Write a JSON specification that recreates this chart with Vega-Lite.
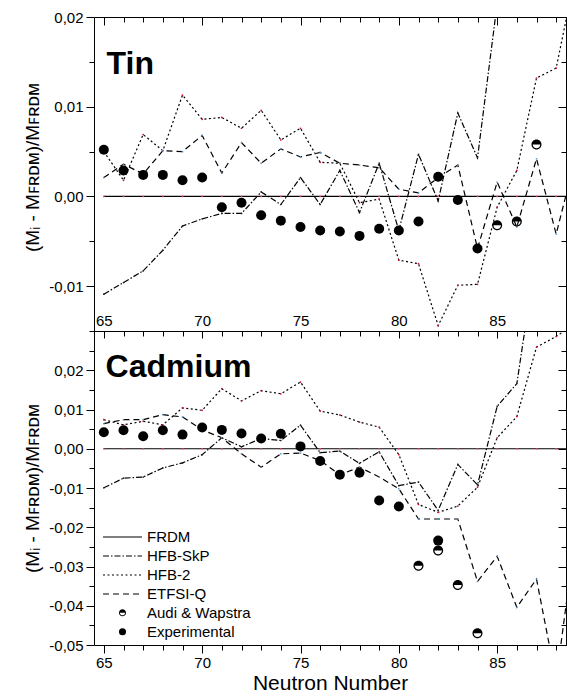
{
  "$schema": "https://vega.github.io/schema/vega-lite/v6.json",
  "padding": {"left": 23, "top": 10, "right": 0, "bottom": 0},
  "spacing": 0,
  "bounds": "flush",
  "config": {
    "font": "Liberation Sans",
    "view": {"stroke": null},
    "axis": {"domainColor": "black", "tickColor": "black", "labelColor": "black", "titleColor": "black", "grid": false, "labelFlush": false, "labelOverlap": false, "labelFontSize": 15, "labelFontWeight": "normal", "titleFontWeight": "normal", "domainWidth": 1, "tickWidth": 1, "labelFont": "Liberation Sans", "titleFont": "Liberation Sans"},
    "legend": {"labelColor": "black", "labelFontSize": 15, "labelFont": "Liberation Sans"}
  },
  "datasets": {
    "models": [
      {"element":"Sn","model":"FRDM","n":65,"v":0},{"element":"Sn","model":"FRDM","n":66,"v":0},{"element":"Sn","model":"FRDM","n":67,"v":0},{"element":"Sn","model":"FRDM","n":68,"v":0},{"element":"Sn","model":"FRDM","n":69,"v":0},{"element":"Sn","model":"FRDM","n":70,"v":0},{"element":"Sn","model":"FRDM","n":71,"v":0},{"element":"Sn","model":"FRDM","n":72,"v":0},{"element":"Sn","model":"FRDM","n":73,"v":0},{"element":"Sn","model":"FRDM","n":74,"v":0},{"element":"Sn","model":"FRDM","n":75,"v":0},{"element":"Sn","model":"FRDM","n":76,"v":0},{"element":"Sn","model":"FRDM","n":77,"v":0},{"element":"Sn","model":"FRDM","n":78,"v":0},{"element":"Sn","model":"FRDM","n":79,"v":0},{"element":"Sn","model":"FRDM","n":80,"v":0},{"element":"Sn","model":"FRDM","n":81,"v":0},{"element":"Sn","model":"FRDM","n":82,"v":0},{"element":"Sn","model":"FRDM","n":83,"v":0},{"element":"Sn","model":"FRDM","n":84,"v":0},{"element":"Sn","model":"FRDM","n":85,"v":0},{"element":"Sn","model":"FRDM","n":86,"v":0},{"element":"Sn","model":"FRDM","n":87,"v":0},{"element":"Sn","model":"FRDM","n":88,"v":0},{"element":"Sn","model":"FRDM","n":89,"v":0},
      {"element":"Sn","model":"HFB-SkP","n":65,"v":-0.0109},{"element":"Sn","model":"HFB-SkP","n":66,"v":-0.0096},{"element":"Sn","model":"HFB-SkP","n":67,"v":-0.0083},{"element":"Sn","model":"HFB-SkP","n":68,"v":-0.006},{"element":"Sn","model":"HFB-SkP","n":69,"v":-0.0033},{"element":"Sn","model":"HFB-SkP","n":70,"v":-0.0025},{"element":"Sn","model":"HFB-SkP","n":71,"v":-0.0019},{"element":"Sn","model":"HFB-SkP","n":72,"v":-0.0019},{"element":"Sn","model":"HFB-SkP","n":73,"v":0.0005},{"element":"Sn","model":"HFB-SkP","n":74,"v":-0.0009},{"element":"Sn","model":"HFB-SkP","n":75,"v":0.0021},{"element":"Sn","model":"HFB-SkP","n":76,"v":-0.0009},{"element":"Sn","model":"HFB-SkP","n":77,"v":0.0029},{"element":"Sn","model":"HFB-SkP","n":78,"v":-0.0018},{"element":"Sn","model":"HFB-SkP","n":79,"v":0.0037},{"element":"Sn","model":"HFB-SkP","n":80,"v":-0.0038},{"element":"Sn","model":"HFB-SkP","n":81,"v":0.0047},{"element":"Sn","model":"HFB-SkP","n":82,"v":-0.0005},{"element":"Sn","model":"HFB-SkP","n":83,"v":0.0093},{"element":"Sn","model":"HFB-SkP","n":84,"v":0.0043},{"element":"Sn","model":"HFB-SkP","n":85,"v":0.0215},{"element":"Sn","model":"HFB-SkP","n":86,"v":0.03},{"element":"Sn","model":"HFB-SkP","n":87,"v":0.035},{"element":"Sn","model":"HFB-SkP","n":88,"v":0.04},
      {"element":"Sn","model":"HFB-2","n":65,"v":0.005},{"element":"Sn","model":"HFB-2","n":66,"v":0.0018},{"element":"Sn","model":"HFB-2","n":67,"v":0.0069},{"element":"Sn","model":"HFB-2","n":68,"v":0.0051},{"element":"Sn","model":"HFB-2","n":69,"v":0.0113},{"element":"Sn","model":"HFB-2","n":70,"v":0.0086},{"element":"Sn","model":"HFB-2","n":71,"v":0.0088},{"element":"Sn","model":"HFB-2","n":72,"v":0.0076},{"element":"Sn","model":"HFB-2","n":73,"v":0.0096},{"element":"Sn","model":"HFB-2","n":74,"v":0.0063},{"element":"Sn","model":"HFB-2","n":75,"v":0.0076},{"element":"Sn","model":"HFB-2","n":76,"v":0.0038},{"element":"Sn","model":"HFB-2","n":77,"v":0.0037},{"element":"Sn","model":"HFB-2","n":78,"v":-0.0007},{"element":"Sn","model":"HFB-2","n":79,"v":-0.0003},{"element":"Sn","model":"HFB-2","n":80,"v":-0.0071},{"element":"Sn","model":"HFB-2","n":81,"v":-0.0075},{"element":"Sn","model":"HFB-2","n":82,"v":-0.0144},{"element":"Sn","model":"HFB-2","n":83,"v":-0.0099},{"element":"Sn","model":"HFB-2","n":84,"v":-0.0098},{"element":"Sn","model":"HFB-2","n":85,"v":-0.0012},{"element":"Sn","model":"HFB-2","n":86,"v":0.0029},{"element":"Sn","model":"HFB-2","n":87,"v":0.0132},{"element":"Sn","model":"HFB-2","n":88,"v":0.0143},{"element":"Sn","model":"HFB-2","n":89,"v":0.025},
      {"element":"Sn","model":"ETFSI-Q","n":65,"v":0.0021},{"element":"Sn","model":"ETFSI-Q","n":66,"v":0.0036},{"element":"Sn","model":"ETFSI-Q","n":67,"v":0.0025},{"element":"Sn","model":"ETFSI-Q","n":68,"v":0.0051},{"element":"Sn","model":"ETFSI-Q","n":69,"v":0.005},{"element":"Sn","model":"ETFSI-Q","n":70,"v":0.0068},{"element":"Sn","model":"ETFSI-Q","n":71,"v":0.0026},{"element":"Sn","model":"ETFSI-Q","n":72,"v":0.006},{"element":"Sn","model":"ETFSI-Q","n":73,"v":0.0037},{"element":"Sn","model":"ETFSI-Q","n":74,"v":0.0053},{"element":"Sn","model":"ETFSI-Q","n":75,"v":0.0044},{"element":"Sn","model":"ETFSI-Q","n":76,"v":0.0049},{"element":"Sn","model":"ETFSI-Q","n":77,"v":0.0037},{"element":"Sn","model":"ETFSI-Q","n":78,"v":0.0035},{"element":"Sn","model":"ETFSI-Q","n":79,"v":0.0032},{"element":"Sn","model":"ETFSI-Q","n":80,"v":0.0008},{"element":"Sn","model":"ETFSI-Q","n":81,"v":0.0004},{"element":"Sn","model":"ETFSI-Q","n":82,"v":0.0021},{"element":"Sn","model":"ETFSI-Q","n":83,"v":0.0035},{"element":"Sn","model":"ETFSI-Q","n":84,"v":-0.0058},{"element":"Sn","model":"ETFSI-Q","n":85,"v":0.0016},{"element":"Sn","model":"ETFSI-Q","n":86,"v":-0.0034},{"element":"Sn","model":"ETFSI-Q","n":87,"v":0.0042},{"element":"Sn","model":"ETFSI-Q","n":88,"v":-0.0042},{"element":"Sn","model":"ETFSI-Q","n":89,"v":0.0045},
      {"element":"Cd","model":"FRDM","n":65,"v":0},{"element":"Cd","model":"FRDM","n":66,"v":0},{"element":"Cd","model":"FRDM","n":67,"v":0},{"element":"Cd","model":"FRDM","n":68,"v":0},{"element":"Cd","model":"FRDM","n":69,"v":0},{"element":"Cd","model":"FRDM","n":70,"v":0},{"element":"Cd","model":"FRDM","n":71,"v":0},{"element":"Cd","model":"FRDM","n":72,"v":0},{"element":"Cd","model":"FRDM","n":73,"v":0},{"element":"Cd","model":"FRDM","n":74,"v":0},{"element":"Cd","model":"FRDM","n":75,"v":0},{"element":"Cd","model":"FRDM","n":76,"v":0},{"element":"Cd","model":"FRDM","n":77,"v":0},{"element":"Cd","model":"FRDM","n":78,"v":0},{"element":"Cd","model":"FRDM","n":79,"v":0},{"element":"Cd","model":"FRDM","n":80,"v":0},{"element":"Cd","model":"FRDM","n":81,"v":0},{"element":"Cd","model":"FRDM","n":82,"v":0},{"element":"Cd","model":"FRDM","n":83,"v":0},{"element":"Cd","model":"FRDM","n":84,"v":0},{"element":"Cd","model":"FRDM","n":85,"v":0},{"element":"Cd","model":"FRDM","n":86,"v":0},{"element":"Cd","model":"FRDM","n":87,"v":0},{"element":"Cd","model":"FRDM","n":88,"v":0},{"element":"Cd","model":"FRDM","n":89,"v":0},
      {"element":"Cd","model":"HFB-SkP","n":65,"v":-0.00995},{"element":"Cd","model":"HFB-SkP","n":66,"v":-0.0075},{"element":"Cd","model":"HFB-SkP","n":67,"v":-0.0072},{"element":"Cd","model":"HFB-SkP","n":68,"v":-0.0049},{"element":"Cd","model":"HFB-SkP","n":69,"v":-0.0036},{"element":"Cd","model":"HFB-SkP","n":70,"v":-0.0015},{"element":"Cd","model":"HFB-SkP","n":71,"v":0.0028},{"element":"Cd","model":"HFB-SkP","n":72,"v":0.0005},{"element":"Cd","model":"HFB-SkP","n":73,"v":0.0026},{"element":"Cd","model":"HFB-SkP","n":74,"v":0.0021},{"element":"Cd","model":"HFB-SkP","n":75,"v":0.006},{"element":"Cd","model":"HFB-SkP","n":76,"v":-0.001},{"element":"Cd","model":"HFB-SkP","n":77,"v":-0.0006},{"element":"Cd","model":"HFB-SkP","n":78,"v":-0.0037},{"element":"Cd","model":"HFB-SkP","n":79,"v":-0.0008},{"element":"Cd","model":"HFB-SkP","n":80,"v":-0.0094},{"element":"Cd","model":"HFB-SkP","n":81,"v":-0.0085},{"element":"Cd","model":"HFB-SkP","n":82,"v":-0.0157},{"element":"Cd","model":"HFB-SkP","n":83,"v":-0.004},{"element":"Cd","model":"HFB-SkP","n":84,"v":-0.0092},{"element":"Cd","model":"HFB-SkP","n":85,"v":0.0108},{"element":"Cd","model":"HFB-SkP","n":86,"v":0.0166},{"element":"Cd","model":"HFB-SkP","n":87,"v":0.05},{"element":"Cd","model":"HFB-SkP","n":88,"v":0.06},
      {"element":"Cd","model":"HFB-2","n":65,"v":0.0074},{"element":"Cd","model":"HFB-2","n":66,"v":0.0061},{"element":"Cd","model":"HFB-2","n":67,"v":0.007},{"element":"Cd","model":"HFB-2","n":68,"v":0.0061},{"element":"Cd","model":"HFB-2","n":69,"v":0.0104},{"element":"Cd","model":"HFB-2","n":70,"v":0.0098},{"element":"Cd","model":"HFB-2","n":71,"v":0.0153},{"element":"Cd","model":"HFB-2","n":72,"v":0.0122},{"element":"Cd","model":"HFB-2","n":73,"v":0.0148},{"element":"Cd","model":"HFB-2","n":74,"v":0.014},{"element":"Cd","model":"HFB-2","n":75,"v":0.017},{"element":"Cd","model":"HFB-2","n":76,"v":0.0096},{"element":"Cd","model":"HFB-2","n":77,"v":0.0086},{"element":"Cd","model":"HFB-2","n":78,"v":0.0068},{"element":"Cd","model":"HFB-2","n":79,"v":0.0055},{"element":"Cd","model":"HFB-2","n":80,"v":-0.0015},{"element":"Cd","model":"HFB-2","n":81,"v":-0.0142},{"element":"Cd","model":"HFB-2","n":82,"v":-0.0162},{"element":"Cd","model":"HFB-2","n":83,"v":-0.0146},{"element":"Cd","model":"HFB-2","n":84,"v":-0.0098},{"element":"Cd","model":"HFB-2","n":85,"v":0.0028},{"element":"Cd","model":"HFB-2","n":86,"v":0.0082},{"element":"Cd","model":"HFB-2","n":87,"v":0.0259},{"element":"Cd","model":"HFB-2","n":88,"v":0.0286},{"element":"Cd","model":"HFB-2","n":89,"v":0.032},
      {"element":"Cd","model":"ETFSI-Q","n":65,"v":0.0064},{"element":"Cd","model":"ETFSI-Q","n":66,"v":0.0074},{"element":"Cd","model":"ETFSI-Q","n":67,"v":0.0074},{"element":"Cd","model":"ETFSI-Q","n":68,"v":0.0087},{"element":"Cd","model":"ETFSI-Q","n":69,"v":0.0081},{"element":"Cd","model":"ETFSI-Q","n":70,"v":0.0048},{"element":"Cd","model":"ETFSI-Q","n":71,"v":0.0028},{"element":"Cd","model":"ETFSI-Q","n":72,"v":-0.0013},{"element":"Cd","model":"ETFSI-Q","n":73,"v":-0.0047},{"element":"Cd","model":"ETFSI-Q","n":74,"v":-0.0013},{"element":"Cd","model":"ETFSI-Q","n":75,"v":-0.0011},{"element":"Cd","model":"ETFSI-Q","n":76,"v":-0.003},{"element":"Cd","model":"ETFSI-Q","n":77,"v":-0.0066},{"element":"Cd","model":"ETFSI-Q","n":78,"v":-0.0047},{"element":"Cd","model":"ETFSI-Q","n":79,"v":-0.0072},{"element":"Cd","model":"ETFSI-Q","n":80,"v":-0.0102},{"element":"Cd","model":"ETFSI-Q","n":81,"v":-0.0179},{"element":"Cd","model":"ETFSI-Q","n":82,"v":-0.0179},{"element":"Cd","model":"ETFSI-Q","n":83,"v":-0.0179},{"element":"Cd","model":"ETFSI-Q","n":84,"v":-0.0338},{"element":"Cd","model":"ETFSI-Q","n":85,"v":-0.0274},{"element":"Cd","model":"ETFSI-Q","n":86,"v":-0.0404},{"element":"Cd","model":"ETFSI-Q","n":87,"v":-0.0332},{"element":"Cd","model":"ETFSI-Q","n":88,"v":-0.059},{"element":"Cd","model":"ETFSI-Q","n":89,"v":-0.021}
    ],
    "exp": [
      {"element":"Sn","source":"Experimental","n":65,"v":0.0052},{"element":"Sn","source":"Experimental","n":66,"v":0.0029},{"element":"Sn","source":"Experimental","n":67,"v":0.0024},{"element":"Sn","source":"Experimental","n":68,"v":0.0024},{"element":"Sn","source":"Experimental","n":69,"v":0.0018},{"element":"Sn","source":"Experimental","n":70,"v":0.0021},{"element":"Sn","source":"Experimental","n":71,"v":-0.0012},{"element":"Sn","source":"Experimental","n":72,"v":-0.0007},{"element":"Sn","source":"Experimental","n":73,"v":-0.0021},{"element":"Sn","source":"Experimental","n":74,"v":-0.0027},{"element":"Sn","source":"Experimental","n":75,"v":-0.0034},{"element":"Sn","source":"Experimental","n":76,"v":-0.0038},{"element":"Sn","source":"Experimental","n":77,"v":-0.0039},{"element":"Sn","source":"Experimental","n":78,"v":-0.0044},{"element":"Sn","source":"Experimental","n":79,"v":-0.0036},{"element":"Sn","source":"Experimental","n":80,"v":-0.0038},{"element":"Sn","source":"Experimental","n":81,"v":-0.0028},{"element":"Sn","source":"Experimental","n":82,"v":0.0022},{"element":"Sn","source":"Experimental","n":83,"v":-0.0004},{"element":"Sn","source":"Experimental","n":84,"v":-0.0058},
      {"element":"Sn","source":"Audi & Wapstra","n":85,"v":-0.0032},{"element":"Sn","source":"Audi & Wapstra","n":86,"v":-0.0028},{"element":"Sn","source":"Audi & Wapstra","n":87,"v":0.0058},
      {"element":"Cd","source":"Experimental","n":65,"v":0.0042},{"element":"Cd","source":"Experimental","n":66,"v":0.0047},{"element":"Cd","source":"Experimental","n":67,"v":0.0032},{"element":"Cd","source":"Experimental","n":68,"v":0.0047},{"element":"Cd","source":"Experimental","n":69,"v":0.0036},{"element":"Cd","source":"Experimental","n":70,"v":0.0054},{"element":"Cd","source":"Experimental","n":71,"v":0.0048},{"element":"Cd","source":"Experimental","n":72,"v":0.0039},{"element":"Cd","source":"Experimental","n":73,"v":0.0026},{"element":"Cd","source":"Experimental","n":74,"v":0.0038},{"element":"Cd","source":"Experimental","n":75,"v":0.0006},{"element":"Cd","source":"Experimental","n":76,"v":-0.0031},{"element":"Cd","source":"Experimental","n":77,"v":-0.0066},{"element":"Cd","source":"Experimental","n":78,"v":-0.0061},{"element":"Cd","source":"Experimental","n":79,"v":-0.0132},{"element":"Cd","source":"Experimental","n":80,"v":-0.0147},{"element":"Cd","source":"Experimental","n":82,"v":-0.0234},
      {"element":"Cd","source":"Audi & Wapstra","n":81,"v":-0.0298},{"element":"Cd","source":"Audi & Wapstra","n":82,"v":-0.0259},{"element":"Cd","source":"Audi & Wapstra","n":83,"v":-0.0347},{"element":"Cd","source":"Audi & Wapstra","n":84,"v":-0.047}
    ],
    "labels": [
      {"element":"Sn","label":"Tin","n":65.14,"v":0.01363},
      {"element":"Cd","label":"Cadmium","n":65.09,"v":0.01827}
    ]
  },
  "resolve": {"legend": {"strokeDash": "independent", "shape": "independent", "color": "independent"}},
  "vconcat": [
    {
      "width": 472,
      "height": 314,
      "resolve": {"axis": {"x": "independent", "y": "independent"}},
      "layer": [
        {
          "data": {"name": "models"},
          "transform": [{"filter": "datum.element === 'Sn'"}],
          "mark": {"type": "line", "clip": true, "strokeWidth": 1.2, "color": "black"},
          "encoding": {
            "x": {"field": "n", "type": "quantitative", "scale": {"domain": [64.5, 88.5], "nice": false, "zero": false},
              "axis": {"orient": "bottom", "values": [65,66,67,68,69,70,71,72,73,74,75,76,77,78,79,80,81,82,83,84,85,86,87,88], "ticks": false, "labelPadding": -18, "labelExpr": "datum.value % 5 === 0 ? datum.label : ''", "title": null}},
            "y": {"field": "v", "type": "quantitative", "scale": {"domain": [-0.015, 0.02], "nice": false, "zero": false},
              "axis": {"orient": "left", "values": [-0.015,-0.01,-0.005,0,0.005,0.01,0.015,0.02],
                "labelExpr": "abs(datum.value*100 - round(datum.value*100)) < 0.001 ? replace(replace(format(datum.value, '.2f'), '.', ','), '\u2212', '-') : ''",
                "tickSize": {"condition": {"test": "abs(datum.value*100 - round(datum.value*100)) < 0.001", "value": 8}, "value": 5},
                "labelPadding": 3, "title": "(Mᵢ - Mꜰʀᴅᴍ)/Mꜰʀᴅᴍ", "titleFontSize": 19, "titlePadding": 6, "titleY": 150}},
            "strokeDash": {"field": "model", "type": "nominal", "scale": {"domain": ["FRDM","HFB-SkP","HFB-2","ETFSI-Q"], "range": [[1,0],[6,2,1.5,2],[2,2.5],[6,4]]}, "legend": null}
          }
        },
        {
          "data": {"name": "models"},
          "transform": [{"filter": "datum.element === 'Sn'"}],
          "mark": {"type": "point", "clip": true, "filled": true, "size": 3, "opacity": 1},
          "encoding": {
            "x": {"field": "n", "type": "quantitative", "axis": null},
            "y": {"field": "v", "type": "quantitative", "axis": null},
            "color": {"field": "model", "type": "nominal", "scale": {"domain": ["FRDM","HFB-SkP","HFB-2","ETFSI-Q"], "range": ["#e8407f","#222222","#d0102a","#5d90c4"]}, "legend": null}
          }
        },
        {
          "data": {"name": "exp"},
          "transform": [{"filter": "datum.element === 'Sn'"}],
          "mark": {"type": "point", "clip": true, "filled": true, "size": 100, "color": "black", "opacity": 1},
          "encoding": {
            "x": {"field": "n", "type": "quantitative",
              "axis": {"orient": "top", "values": [65,66,67,68,69,70,71,72,73,74,75,76,77,78,79,80,81,82,83,84,85,86,87,88], "labels": false, "title": null,
                "tickSize": {"condition": {"test": "datum.value % 5 === 0", "value": -8}, "value": -5}}},
            "y": {"field": "v", "type": "quantitative",
              "axis": {"orient": "right", "values": [-0.015,-0.01,-0.005,0,0.005,0.01,0.015,0.02], "labels": false, "title": null,
                "tickSize": {"condition": {"test": "abs(datum.value*100 - round(datum.value*100)) < 0.001", "value": -8}, "value": -5}}},
            "shape": {"field": "source", "type": "nominal", "scale": {"domain": ["Audi & Wapstra","Experimental"], "range": ["M-1,0A1,1,0,0,1,1,0Z M-1,0A1,1,0,0,0,1,0L0.75,0A0.75,0.75,0,0,1,-0.75,0Z","circle"]}, "legend": null}
          }
        },
        {
          "data": {"name": "labels"},
          "transform": [{"filter": "datum.element === 'Sn'"}],
          "mark": {"type": "text", "align": "left", "baseline": "alphabetic", "fontSize": 32, "fontWeight": "bold", "color": "black"},
          "encoding": {
            "x": {"field": "n", "type": "quantitative", "axis": null},
            "y": {"field": "v", "type": "quantitative", "axis": null},
            "text": {"field": "label"}
          }
        }
      ]
    },
    {
      "width": 472,
      "height": 314,
      "resolve": {"axis": {"x": "independent", "y": "independent"}},
      "layer": [
        {
          "data": {"name": "models"},
          "transform": [{"filter": "datum.element === 'Cd'"}],
          "mark": {"type": "line", "clip": true, "strokeWidth": 1.2, "color": "black"},
          "encoding": {
            "x": {"field": "n", "type": "quantitative", "scale": {"domain": [64.5, 88.5], "nice": false, "zero": false},
              "axis": {"orient": "bottom", "values": [65,66,67,68,69,70,71,72,73,74,75,76,77,78,79,80,81,82,83,84,85,86,87,88], "labelPadding": 2, "labelExpr": "datum.value % 5 === 0 ? datum.label : ''",
                "tickSize": {"condition": {"test": "datum.value % 5 === 0", "value": 8}, "value": 5},
                "title": "Neutron Number", "titleFontSize": 21, "titlePadding": 2}},
            "y": {"field": "v", "type": "quantitative", "scale": {"domain": [-0.05, 0.03], "nice": false, "zero": false},
              "axis": {"orient": "left", "values": [-0.05,-0.045,-0.04,-0.035,-0.03,-0.025,-0.02,-0.015,-0.01,-0.005,0,0.005,0.01,0.015,0.02,0.025],
                "labelExpr": "abs(datum.value*100 - round(datum.value*100)) < 0.001 ? replace(replace(format(datum.value, '.2f'), '.', ','), '\u2212', '-') : ''",
                "tickSize": {"condition": {"test": "abs(datum.value*100 - round(datum.value*100)) < 0.001", "value": 8}, "value": 5},
                "labelPadding": 3, "title": "(Mᵢ - Mꜰʀᴅᴍ)/Mꜰʀᴅᴍ", "titleFontSize": 19, "titlePadding": 6}},
            "strokeDash": {"field": "model", "type": "nominal", "scale": {"domain": ["FRDM","HFB-SkP","HFB-2","ETFSI-Q"], "range": [[1,0],[6,2,1.5,2],[2,2.5],[6,4]]},
              "legend": {"title": null, "orient": "none", "legendX": 8, "legendY": 196.5, "symbolType": "stroke", "symbolSize": 1521, "symbolStrokeWidth": 1.2, "symbolStrokeColor": "black", "labelOffset": 4, "clipHeight": 19, "rowPadding": 0, "padding": 0, "labelFontSize": 15}}
          }
        },
        {
          "data": {"name": "models"},
          "transform": [{"filter": "datum.element === 'Cd'"}],
          "mark": {"type": "point", "clip": true, "filled": true, "size": 3, "opacity": 1},
          "encoding": {
            "x": {"field": "n", "type": "quantitative", "axis": null},
            "y": {"field": "v", "type": "quantitative", "axis": null},
            "color": {"field": "model", "type": "nominal", "scale": {"domain": ["FRDM","HFB-SkP","HFB-2","ETFSI-Q"], "range": ["#e8407f","#222222","#d0102a","#5d90c4"]}, "legend": null}
          }
        },
        {
          "data": {"name": "exp"},
          "transform": [{"filter": "datum.element === 'Cd'"}],
          "mark": {"type": "point", "clip": true, "filled": true, "size": 100, "color": "black", "opacity": 1},
          "encoding": {
            "x": {"field": "n", "type": "quantitative",
              "axis": {"orient": "top", "values": [65,66,67,68,69,70,71,72,73,74,75,76,77,78,79,80,81,82,83,84,85,86,87,88], "labels": false, "title": null,
                "tickSize": {"condition": {"test": "datum.value % 5 === 0", "value": -7}, "value": -5}}},
            "y": {"field": "v", "type": "quantitative",
              "axis": {"orient": "right", "values": [-0.05,-0.045,-0.04,-0.035,-0.03,-0.025,-0.02,-0.015,-0.01,-0.005,0,0.005,0.01,0.015,0.02,0.025], "labels": false, "title": null,
                "tickSize": {"condition": {"test": "abs(datum.value*100 - round(datum.value*100)) < 0.001", "value": -8}, "value": -5}}},
            "shape": {"field": "source", "type": "nominal", "scale": {"domain": ["Audi & Wapstra","Experimental"], "range": ["M-1,0A1,1,0,0,1,1,0Z M-1,0A1,1,0,0,0,1,0L0.75,0A0.75,0.75,0,0,1,-0.75,0Z","circle"]},
              "legend": {"title": null, "orient": "none", "legendX": 8, "legendY": 272.2, "symbolSize": 50, "symbolOffset": 13, "symbolFillColor": "black", "symbolStrokeWidth": 0, "labelOffset": 17, "clipHeight": 19, "rowPadding": 0, "padding": 0, "labelFontSize": 15}}
          }
        },
        {
          "data": {"name": "labels"},
          "transform": [{"filter": "datum.element === 'Cd'"}],
          "mark": {"type": "text", "align": "left", "baseline": "alphabetic", "fontSize": 32, "fontWeight": "bold", "color": "black"},
          "encoding": {
            "x": {"field": "n", "type": "quantitative", "axis": null},
            "y": {"field": "v", "type": "quantitative", "axis": null},
            "text": {"field": "label"}
          }
        }
      ]
    }
  ]
}
